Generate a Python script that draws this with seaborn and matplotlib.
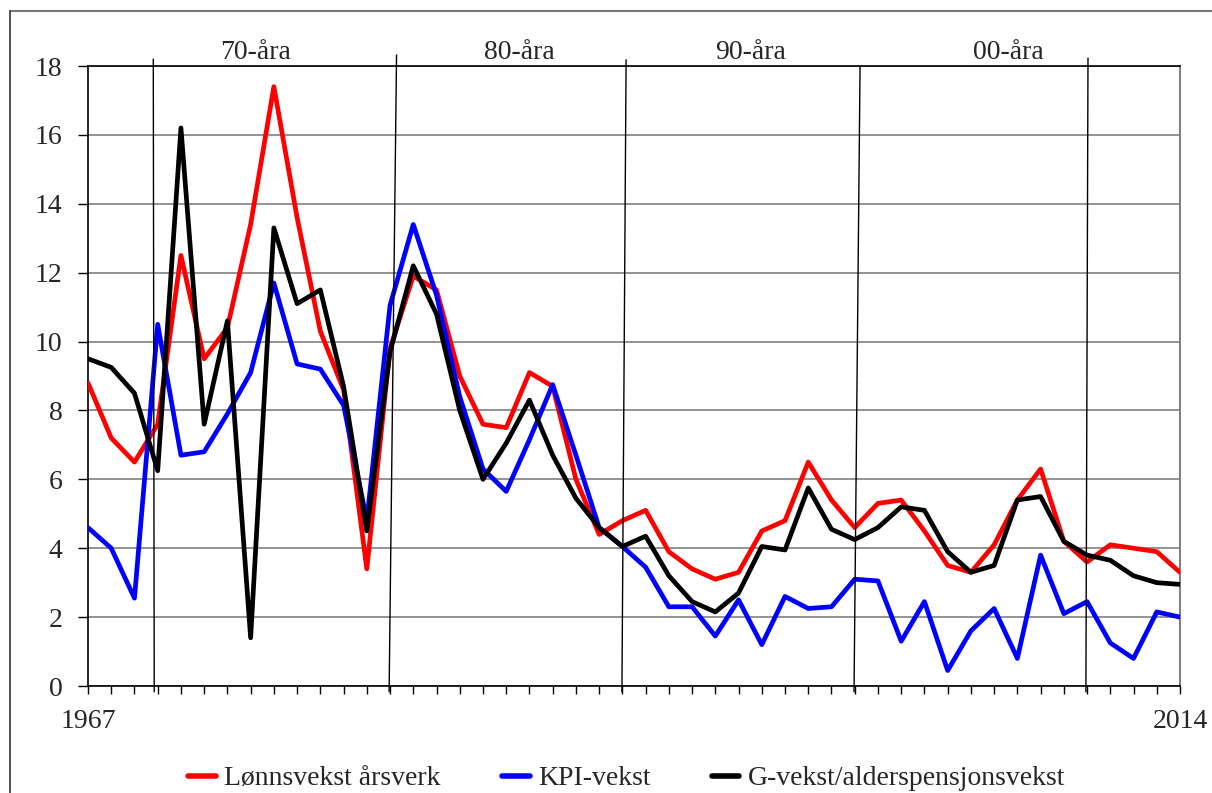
import matplotlib
matplotlib.use("Agg")
import matplotlib.pyplot as plt
from matplotlib.lines import Line2D
import seaborn as sns
import pandas as pd

# ---- data ----
years = list(range(1967, 2015))
series_names = ["Lønnsvekst årsverk", "KPI-vekst", "G-vekst/alderspensjonsvekst"]
series_colors = ["#ff0000", "#0000ff", "#000000"]

lonnsvekst = [8.8, 7.2, 6.5, 7.6, 12.5, 9.5, 10.4, 13.4, 17.4, 13.6, 10.3, 8.6, 3.4,
              9.8, 11.9, 11.5, 9.0, 7.6, 7.5, 9.1, 8.7, 6.0, 4.4,
              4.8, 5.1, 3.9, 3.4, 3.1, 3.3, 4.5, 4.8, 6.5, 5.4,
              4.6, 5.3, 5.4, 4.5, 3.5, 3.3, 4.1, 5.4, 6.3, 4.2,
              3.6, 4.1, 4.0, 3.9, 3.3]
kpi_vekst = [4.6, 4.0, 2.55, 10.5, 6.7, 6.8, 7.9, 9.1, 11.7, 9.35, 9.2, 8.15, 4.8,
             11.05, 13.4, 11.35, 8.4, 6.3, 5.65, 7.15, 8.75, 6.7, 4.6,
             4.05, 3.45, 2.3, 2.3, 1.45, 2.5, 1.2, 2.6, 2.25, 2.3,
             3.1, 3.05, 1.3, 2.45, 0.45, 1.6, 2.25, 0.8, 3.8, 2.1,
             2.45, 1.25, 0.8, 2.15, 2.0]
g_vekst = [9.5, 9.25, 8.5, 6.25, 16.2, 7.6, 10.6, 1.4, 13.3, 11.1, 11.5, 8.7, 4.5,
           9.7, 12.2, 10.8, 8.0, 6.0, 7.05, 8.3, 6.7, 5.45, 4.6,
           4.05, 4.35, 3.2, 2.45, 2.15, 2.7, 4.05, 3.95, 5.75, 4.55,
           4.25, 4.6, 5.2, 5.1, 3.9, 3.3, 3.5, 5.4, 5.5, 4.2,
           3.8, 3.65, 3.2, 3.0, 2.95]

decade_labels = ["70-åra", "80-åra", "90-åra", "00-åra"]
y_ticks = [0, 2, 4, 6, 8, 10, 12, 14, 16, 18]
x_tick_labels = ["1967", "2014"]

df = pd.DataFrame({
    "year": years * 3,
    "value": lonnsvekst + kpi_vekst + g_vekst,
    "series": [series_names[0]] * len(years) + [series_names[1]] * len(years)
              + [series_names[2]] * len(years),
})

# ---- style ----
sns.set_style("white")
plt.rcParams["font.family"] = ["Liberation Serif", "DejaVu Serif"]
FS = 20

W, H = 1212, 793
fig = plt.figure(figsize=(W / 100, H / 100), dpi=100)
ax = fig.add_axes([88 / W, 1 - 686 / H, (1180 - 88) / W, (686 - 66) / H])

sns.lineplot(data=df, x="year", y="value", hue="series", hue_order=series_names,
             palette=series_colors, linewidth=3.4, ax=ax, legend=False, zorder=3)

ax.set_xlim(1967, 2014)
ax.set_ylim(0, 18)
ax.set_yticks(y_ticks)
ax.set_yticklabels([str(v) for v in y_ticks], fontsize=FS)
ax.set_xticks([1967, 2014])
ax.set_xticklabels(x_tick_labels, fontsize=FS)
ax.set_xticks(years, minor=True)
ax.set_xlabel("")
ax.set_ylabel("")

ax.grid(axis="y", color="#808080", linewidth=1.2, zorder=0)
ax.grid(axis="x", visible=False)
ax.tick_params(axis="y", which="major", direction="out", length=7.5, width=1.0,
               color="black", pad=11, left=True)
ax.tick_params(axis="x", which="both", direction="out", length=6, width=1.0,
               color="black", pad=10.5, bottom=True)

for side in ["left", "bottom", "top"]:
    ax.spines[side].set_color("black")
    ax.spines[side].set_linewidth(1.2)
ax.spines["right"].set_color("#808080")
ax.spines["right"].set_linewidth(1.5)

# decade separator lines (slightly slanted as in the original)
sep_top_x = [1969.81, 1980.28, 1990.16, 2000.23, 2010.04]
sep_bot_x = [1969.85, 1979.96, 1989.98, 1999.97, 2009.95]
sep_top_y = [18.2, 18.32, 18.18, 18.0, 18.23]
for xt, xb, yt in zip(sep_top_x, sep_bot_x, sep_top_y):
    ax.plot([xt, xb], [yt, -0.17], color="black", linewidth=1.0, clip_on=False, zorder=4)

label_x = [1974.23, 1985.55, 1995.5, 2006.6]
for lx, lab in zip(label_x, decade_labels):
    ax.text(lx, 18.4, lab, ha="center", va="center", fontsize=FS, clip_on=False)

# outer frame
fig.add_artist(Line2D([10 / W, 1.0], [1 - 11 / H, 1 - 11 / H], color="#777777",
                      linewidth=1.5, transform=fig.transFigure))
fig.add_artist(Line2D([10 / W, 10 / W], [1 - 11 / H, 0], color="#333333",
                      linewidth=1.2, transform=fig.transFigure))

handles = [Line2D([0], [0], color=c, linewidth=4) for c in series_colors]
fig.legend(handles, series_names, loc="center", bbox_to_anchor=(0.517, 0.018),
           ncol=3, frameon=False, fontsize=FS, handlelength=1.0, handletextpad=0.3,
           columnspacing=2.2)

fig.savefig("out.png", dpi=100)
